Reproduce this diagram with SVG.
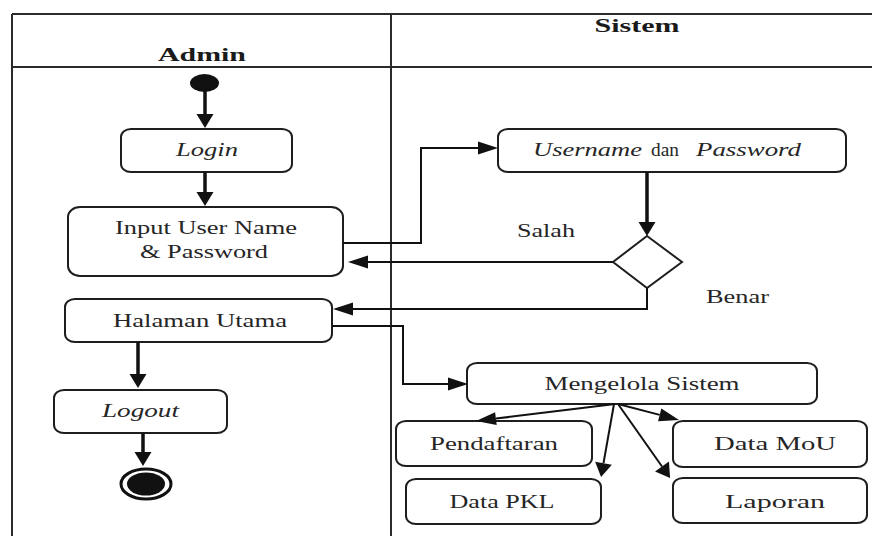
<svg xmlns="http://www.w3.org/2000/svg" width="872" height="536" viewBox="0 0 872 536">
  <style>
    .lane { fill: none; stroke: #2b2b2b; stroke-width: 2; }
    .box { fill: #ffffff; stroke: #1e1e1e; stroke-width: 2; }
    .lbl { font-family: "Liberation Serif", "Times New Roman", serif; font-size: 18px; fill: #262626; text-anchor: middle; }
    .hdr { font-family: "Liberation Serif", "Times New Roman", serif; font-size: 19px; font-weight: bold; fill: #1a1a1a; text-anchor: middle; }
    .it { font-style: italic; }
    .wire { fill: none; stroke: #111; stroke-width: 2; }
    .shaft { fill: none; stroke: #111; stroke-width: 3.5; }
    .tip { fill: #111; stroke: none; }
  </style>
  <defs>
    <!-- arrowheads: base sits on the line end, tip points forward -->
    <marker id="ah-v" markerUnits="userSpaceOnUse" markerWidth="14" markerHeight="17" refX="0" refY="8.5" orient="auto" overflow="visible">
      <path class="tip" d="M0,0 L14,8.5 L0,17 Z"/>
    </marker>
    <marker id="ah-h" markerUnits="userSpaceOnUse" markerWidth="20" markerHeight="13" refX="0" refY="6.5" orient="auto" overflow="visible">
      <path class="tip" d="M0,0 L20,6.5 L0,13 Z"/>
    </marker>
  </defs>

  <rect width="872" height="536" fill="#ffffff"/>

  <!-- swimlanes -->
  <g id="lanes">
    <path class="lane" d="M12,14 H872 M12,67 H872 M12,14 V536 M391,14 V536"/>
    <text class="hdr" x="202" y="61" textLength="88" lengthAdjust="spacingAndGlyphs">Admin</text>
    <text class="hdr" x="637" y="32" textLength="85" lengthAdjust="spacingAndGlyphs">Sistem</text>
  </g>

  <!-- Admin lane -->
  <g id="start">
    <ellipse cx="204.5" cy="83" rx="14.5" ry="9" fill="#111"/>
  </g>
  <g id="login">
    <rect class="box" x="121" y="129" width="171" height="43" rx="10" ry="8"/>
    <text class="lbl it" x="207" y="156" textLength="62" lengthAdjust="spacingAndGlyphs">Login</text>
  </g>
  <g id="input">
    <rect class="box" x="68" y="207" width="275" height="69" rx="12" ry="10"/>
    <text class="lbl" x="206" y="234" textLength="182" lengthAdjust="spacingAndGlyphs">Input User Name</text>
    <text class="lbl" x="204" y="258" textLength="128" lengthAdjust="spacingAndGlyphs">&amp; Password</text>
  </g>
  <g id="halaman">
    <rect class="box" x="65" y="299" width="267" height="43" rx="10" ry="8"/>
    <text class="lbl" x="200" y="327" textLength="174" lengthAdjust="spacingAndGlyphs">Halaman Utama</text>
  </g>
  <g id="logout">
    <rect class="box" x="54" y="390" width="173" height="43" rx="10" ry="8"/>
    <text class="lbl it" x="140.5" y="417" textLength="77" lengthAdjust="spacingAndGlyphs">Logout</text>
  </g>
  <g id="end">
    <ellipse cx="146" cy="484" rx="25" ry="15" fill="none" stroke="#111" stroke-width="3"/>
    <ellipse cx="146" cy="484" rx="19" ry="11.5" fill="#111"/>
  </g>

  <!-- Sistem lane -->
  <g id="credentials">
    <rect class="box" x="498" y="129" width="348" height="43" rx="10" ry="8"/>
    <text class="lbl" y="156" style="text-anchor:start"><tspan class="it" x="533" textLength="109" lengthAdjust="spacingAndGlyphs">Username</tspan><tspan x="651" textLength="28" lengthAdjust="spacingAndGlyphs">dan</tspan><tspan class="it" x="696" textLength="105" lengthAdjust="spacingAndGlyphs">Password</tspan></text>
  </g>
  <g id="check">
    <polygon class="box" points="647,236 682,262 647,288 613,262"/>
    <text class="lbl" x="517" y="237" style="text-anchor:start" textLength="58" lengthAdjust="spacingAndGlyphs">Salah</text>
    <text class="lbl" x="706" y="303" style="text-anchor:start" textLength="63" lengthAdjust="spacingAndGlyphs">Benar</text>
  </g>
  <g id="mengelola">
    <rect class="box" x="467" y="363" width="350" height="41" rx="10" ry="8"/>
    <text class="lbl" x="642" y="390" textLength="195" lengthAdjust="spacingAndGlyphs">Mengelola Sistem</text>
  </g>
  <g id="pendaftaran">
    <rect class="box" x="396" y="421" width="196" height="45" rx="10" ry="8"/>
    <text class="lbl" x="494" y="450" textLength="128" lengthAdjust="spacingAndGlyphs">Pendaftaran</text>
  </g>
  <g id="data-pkl">
    <rect class="box" x="406" y="479" width="195" height="45" rx="10" ry="8"/>
    <text class="lbl" x="502" y="508" textLength="105" lengthAdjust="spacingAndGlyphs">Data PKL</text>
  </g>
  <g id="data-mou">
    <rect class="box" x="673" y="421" width="194" height="46" rx="10" ry="8"/>
    <text class="lbl" x="775" y="450" textLength="122" lengthAdjust="spacingAndGlyphs">Data MoU</text>
  </g>
  <g id="laporan">
    <rect class="box" x="673" y="478" width="194" height="45" rx="10" ry="8"/>
    <text class="lbl" x="775" y="508" textLength="100" lengthAdjust="spacingAndGlyphs">Laporan</text>
  </g>

  <!-- connectors -->
  <g id="connectors">
    <path class="shaft" d="M205,90 V114" marker-end="url(#ah-v)"/>
    <path class="shaft" d="M205,172 V192" marker-end="url(#ah-v)"/>
    <path class="wire" d="M343,243 H421 V148 H478" marker-end="url(#ah-h)"/>
    <path class="shaft" d="M647,172 V222" marker-end="url(#ah-v)"/>
    <path class="wire" d="M613,262 H368" marker-end="url(#ah-h)"/>
    <path class="wire" stroke-width="2.6" d="M484,262 H368"/>
    <path class="wire" d="M647,288 V309 H353" marker-end="url(#ah-h)"/>
    <path class="wire" d="M332,326 H403 V384 H448" marker-end="url(#ah-h)"/>
    <path class="shaft" d="M138,342 V374" marker-end="url(#ah-v)"/>
    <path class="shaft" d="M143,433 V452" marker-end="url(#ah-v)"/>
    <path class="wire" d="M615,404 L495.9,418.6" marker-end="url(#ah-h)"/>
    <path class="wire" d="M614,404 L603.5,463.2" marker-end="url(#ah-v)"/>
    <path class="wire" d="M618,404 L659.7,414.9" marker-end="url(#ah-h)"/>
    <path class="wire" d="M618,404 L662,466.5" marker-end="url(#ah-v)"/>
  </g>
</svg>
